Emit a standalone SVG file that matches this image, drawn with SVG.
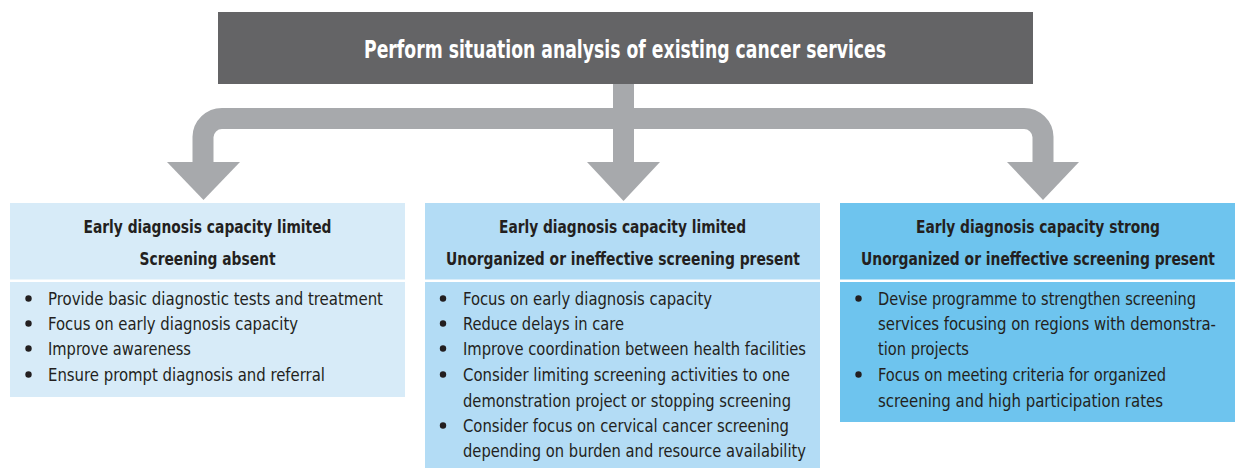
<svg xmlns="http://www.w3.org/2000/svg" width="1235" height="468" viewBox="0 0 1235 468">
<style>
  text { font-family: "DejaVu Sans Condensed", "DejaVu Sans", "Liberation Sans", sans-serif; font-stretch: condensed; fill: #231f20; }
  .title { font-size: 25px; font-weight: bold; fill: #ffffff; text-anchor: middle; }
  .hd { font-size: 18px; font-weight: bold; text-anchor: middle; }
  .bt { font-size: 18px; }
  .end { text-anchor: end; }
  .dot { fill: #231f20; }
  .conn { fill: none; stroke: #a7a9ac; stroke-width: 21; }
  .head { fill: #a7a9ac; }
</style>
<rect width="1235" height="468" fill="#ffffff"/>

<g id="connectors">
  <path class="conn" d="M203,163 V137 A19,19 0 0 1 222,118.5 H1024 A19,19 0 0 1 1043,137 V163"/>
  <path class="conn" d="M623.5,83 V163"/>
  <polygon class="head" points="167,162 240,162 203.5,200"/>
  <polygon class="head" points="587,162 660,162 623.5,201"/>
  <polygon class="head" points="1007,162 1079,162 1043,200"/>
</g>

<g id="top">
  <rect x="218" y="12" width="815" height="72" fill="#646466"/>
  <text class="title" x="625" y="58" textLength="522" lengthAdjust="spacingAndGlyphs">Perform situation analysis of existing cancer services</text>
</g>

<g id="box1">
  <rect x="10" y="203" width="395" height="76.5" fill="#d7ebf8"/>
  <rect x="10" y="282" width="395" height="115" fill="#d7ebf8"/>
  <text class="hd" x="207.5" y="233" textLength="248" lengthAdjust="spacingAndGlyphs">Early diagnosis capacity limited</text>
  <text class="hd" x="207.5" y="265" textLength="136" lengthAdjust="spacingAndGlyphs">Screening absent</text>
  <circle class="dot" cx="28.5" cy="298.5" r="3.2"/>
  <circle class="dot" cx="28.5" cy="323.5" r="3.2"/>
  <circle class="dot" cx="28.5" cy="348.5" r="3.2"/>
  <circle class="dot" cx="28.5" cy="374.5" r="3.2"/>
  <text class="bt" x="48" y="305" textLength="335" lengthAdjust="spacingAndGlyphs">Provide basic diagnostic tests and treatment</text>
  <text class="bt" x="48" y="330" textLength="250" lengthAdjust="spacingAndGlyphs">Focus on early diagnosis capacity</text>
  <text class="bt" x="48" y="355" textLength="143" lengthAdjust="spacingAndGlyphs">Improve awareness</text>
  <text class="bt" x="48" y="381" textLength="277" lengthAdjust="spacingAndGlyphs">Ensure prompt diagnosis and referral</text>
</g>

<g id="box2">
  <rect x="425" y="203" width="395" height="76.5" fill="#b3dcf5"/>
  <rect x="425" y="282" width="395" height="186" fill="#b3dcf5"/>
  <text class="hd" x="622.5" y="233" textLength="247" lengthAdjust="spacingAndGlyphs">Early diagnosis capacity limited</text>
  <text class="hd" x="623" y="265" textLength="354" lengthAdjust="spacingAndGlyphs">Unorganized or ineffective screening present</text>
  <circle class="dot" cx="443" cy="298.5" r="3.2"/>
  <circle class="dot" cx="443" cy="323.5" r="3.2"/>
  <circle class="dot" cx="443" cy="348.5" r="3.2"/>
  <circle class="dot" cx="443" cy="374.5" r="3.2"/>
  <circle class="dot" cx="443" cy="425.5" r="3.2"/>
  <text class="bt" x="463" y="305" textLength="249" lengthAdjust="spacingAndGlyphs">Focus on early diagnosis capacity</text>
  <text class="bt" x="463" y="330" textLength="161" lengthAdjust="spacingAndGlyphs">Reduce delays in care</text>
  <text class="bt" x="463" y="355" textLength="343" lengthAdjust="spacingAndGlyphs">Improve coordination between health facilities</text>
  <text class="bt" x="463" y="381" textLength="327" lengthAdjust="spacingAndGlyphs">Consider limiting screening activities to one</text>
  <text class="bt" x="463" y="407" textLength="328" lengthAdjust="spacingAndGlyphs">demonstration project or stopping screening</text>
  <text class="bt" x="463" y="432" textLength="326" lengthAdjust="spacingAndGlyphs">Consider focus on cervical cancer screening</text>
  <text class="bt" x="463" y="457" textLength="343" lengthAdjust="spacingAndGlyphs">depending on burden and resource availability</text>
</g>

<g id="box3">
  <rect x="840" y="203" width="395" height="76.5" fill="#6ec4ee"/>
  <rect x="840" y="282" width="395" height="140" fill="#6ec4ee"/>
  <text class="hd" x="1038" y="233" textLength="244" lengthAdjust="spacingAndGlyphs">Early diagnosis capacity strong</text>
  <text class="hd end" x="1215" y="265" textLength="354" lengthAdjust="spacingAndGlyphs">Unorganized or ineffective screening present</text>
  <circle class="dot" cx="858.5" cy="298.5" r="3.2"/>
  <circle class="dot" cx="858.5" cy="374.5" r="3.2"/>
  <text class="bt" x="878" y="305" textLength="318" lengthAdjust="spacingAndGlyphs">Devise programme to strengthen screening</text>
  <text class="bt end" x="1216" y="330" textLength="338" lengthAdjust="spacingAndGlyphs">services focusing on regions with demonstra-</text>
  <text class="bt" x="878" y="355" textLength="91" lengthAdjust="spacingAndGlyphs">tion projects</text>
  <text class="bt" x="878" y="381" textLength="288" lengthAdjust="spacingAndGlyphs">Focus on meeting criteria for organized</text>
  <text class="bt" x="878" y="407" textLength="285" lengthAdjust="spacingAndGlyphs">screening and high participation rates</text>
</g>
</svg>
